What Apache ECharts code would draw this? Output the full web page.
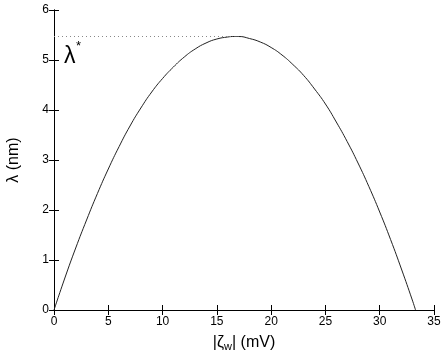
<!DOCTYPE html>
<html>
<head>
<meta charset="utf-8">
<script src="https://cdn.jsdelivr.net/npm/echarts@6/dist/echarts.min.js"></script>
<style>
  html, body { margin: 0; padding: 0; background: #fff; }
  #main { width: 445px; height: 351px; }
</style>
</head>
<body>
<div id="main"></div>
<script>
// curve: |zeta_w| (mV) vs lambda (nm)
var zetaVals = [0, 1, 2, 3, 4, 5, 6, 7, 8, 9, 10, 11, 12, 13, 14, 15, 16, 16.6,
                17, 18, 19, 20, 21, 22, 23, 24, 25, 26, 27, 28, 29, 30, 31, 32, 33, 33.3];
var lambdaVals = [0, 0.64, 1.24, 1.80, 2.33, 2.82, 3.27, 3.68, 4.04, 4.36, 4.63, 4.86, 5.06, 5.22, 5.34, 5.42, 5.46, 5.47,
                  5.47, 5.43, 5.36, 5.25, 5.10, 4.91, 4.69, 4.42, 4.12, 3.76, 3.37, 2.94, 2.47, 1.96, 1.41, 0.82, 0.2, 0];
// dotted guide at the maximum
var peakX = [0, 16.6];
var peakY = [5.47, 5.47];
var xTicks = [0, 5, 10, 15, 20, 25, 30, 35];
var yTicks = [0, 1, 2, 3, 4, 5, 6];

var curve = zetaVals.map(function (x, i) { return [x, lambdaVals[i]]; });
var guide = peakX.map(function (x, i) { return [x, peakY[i]]; });

var font = 'Liberation Sans, Arial, Helvetica, sans-serif';
var chart = echarts.init(document.getElementById('main'));

var tickStyle = { show: true, inside: true, length: 5, lineStyle: { color: '#000', width: 1 } };
var lineStyle = { show: true, lineStyle: { color: '#000', width: 1 } };

chart.setOption({
    animation: false,
    backgroundColor: '#fff',
    grid: { left: 54, right: 11, top: 10, bottom: 41, containLabel: false, outerBoundsMode: 'none' },
    xAxis: [
        {
            type: 'value', min: xTicks[0], max: xTicks[xTicks.length - 1], interval: 5,
            position: 'bottom',
            axisLine: lineStyle, axisTick: tickStyle, splitLine: { show: false },
            axisLabel: { color: '#000', fontSize: 12, fontFamily: font, margin: 6 },
            name: '|ζ{s|w}| (mV)',
            nameLocation: 'middle', nameGap: 16,
            nameTextStyle: {
                color: '#000', fontSize: 16, fontFamily: font, lineHeight: 20,
                rich: { s: { fontSize: 11, fontFamily: font, color: '#000', lineHeight: 10, verticalAlign: 'bottom' } }
            }
        },
        {
            type: 'value', min: 0, max: 35, interval: 5, position: 'top',
            axisLine: lineStyle, axisTick: tickStyle, axisLabel: { show: false }, splitLine: { show: false }
        }
    ],
    yAxis: [
        {
            type: 'value', min: yTicks[0], max: yTicks[yTicks.length - 1], interval: 1,
            position: 'left',
            axisLine: lineStyle, axisTick: tickStyle, splitLine: { show: false },
            axisLabel: { color: '#000', fontSize: 12, fontFamily: font, margin: 5 },
            name: 'λ (nm)', nameLocation: 'middle', nameGap: 32, nameRotate: 90,
            nameTextStyle: { color: '#000', fontSize: 16, fontFamily: font }
        },
        {
            type: 'value', min: 0, max: 6, interval: 1, position: 'right',
            axisLine: lineStyle, axisTick: tickStyle, axisLabel: { show: false }, splitLine: { show: false }
        }
    ],
    graphic: [
        { type: 'text', left: 64, top: 45, style: { text: 'λ', fontSize: 23, fontFamily: font, fill: '#000' } },
        { type: 'text', left: 76, top: 40, style: { text: '*', fontSize: 13, fontFamily: font, fill: '#000' } }
    ],
    series: [
        {
            type: 'line', data: curve, smooth: true, symbol: 'none',
            lineStyle: { color: '#222', width: 1 }
        },
        {
            type: 'line', data: guide, symbol: 'none',
            lineStyle: { color: '#888', width: 1, type: [1, 3] }
        }
    ]
});
</script>
</body>
</html>
